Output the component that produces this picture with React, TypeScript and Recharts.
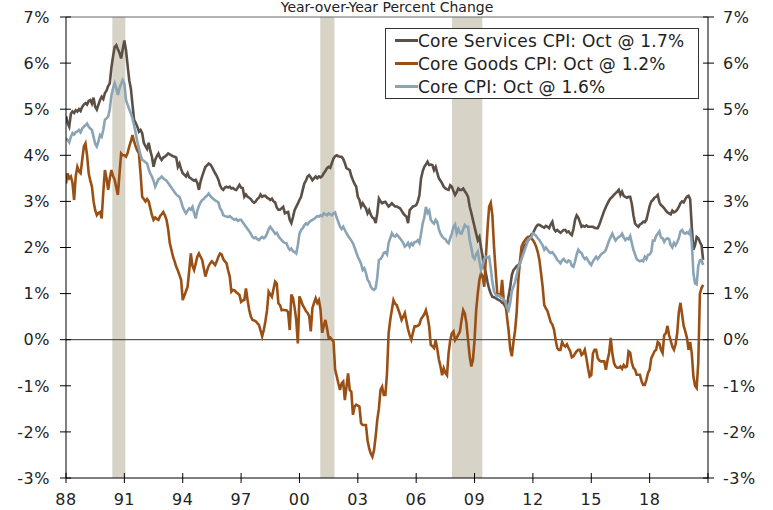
import React from 'react';
import {
  Legend,
  Line,
  LineChart,
  ReferenceArea,
  ReferenceLine,
  XAxis,
  YAxis,
} from 'recharts';

const FONT = '"DejaVu Sans", Verdana, sans-serif';

// monthly, Jan 1988 .. Oct 2020, year over year %
const coreServices = [
  4.85, 4.70, 4.62, 4.90, 4.95, 4.92, 4.98, 4.95, 5.00, 4.96, 5.05, 5.10, // 88
  5.13, 5.10, 5.18, 5.20, 5.12, 5.25, 5.05, 4.99, 5.10, 5.20, 5.27, 5.22, // 89
  5.35, 5.40, 5.50, 5.56, 5.90, 6.14, 6.35, 6.39, 6.30, 6.22, 6.10, 6.30, // 90
  6.49, 6.28, 5.95, 5.63, 5.45, 5.10, 4.77, 4.70, 4.62, 4.51, 4.55, 4.48, // 91
  4.27, 4.20, 4.14, 4.27, 4.10, 3.97, 3.75, 3.90, 3.98, 4.04, 3.95, 3.90, // 92
  3.95, 3.97, 4.00, 4.04, 4.02, 4.00, 3.98, 3.97, 3.95, 3.75, 3.82, 3.70, // 93
  3.61, 3.58, 3.54, 3.61, 3.52, 3.50, 3.47, 3.45, 3.47, 3.40, 3.25, 3.43, // 94
  3.55, 3.65, 3.75, 3.78, 3.82, 3.80, 3.75, 3.68, 3.61, 3.55, 3.47, 3.35, // 95
  3.28, 3.25, 3.30, 3.32, 3.30, 3.32, 3.28, 3.29, 3.26, 3.25, 3.30, 3.36, // 96
  3.30, 3.29, 3.10, 3.15, 3.10, 3.08, 3.05, 3.00, 2.97, 3.00, 3.05, 3.08, // 97
  3.15, 3.10, 3.12, 3.12, 3.08, 3.06, 3.03, 3.06, 3.00, 2.98, 2.87, 2.82, // 98
  2.82, 2.85, 2.88, 2.74, 2.76, 2.77, 2.60, 2.53, 2.66, 2.81, 2.88, 2.95, // 99
  3.03, 3.10, 3.25, 3.39, 3.45, 3.54, 3.57, 3.52, 3.46, 3.50, 3.54, 3.50, // 00
  3.54, 3.52, 3.55, 3.61, 3.66, 3.72, 3.75, 3.73, 3.83, 3.93, 3.98, 4.00, // 01
  3.98, 3.97, 3.97, 3.92, 3.83, 3.72, 3.70, 3.68, 3.55, 3.46, 3.38, 3.32, // 02
  3.10, 3.03, 2.89, 2.96, 2.90, 2.85, 2.74, 2.81, 2.71, 2.65, 2.63, 2.53, // 03
  2.74, 3.06, 3.00, 2.96, 2.98, 2.99, 2.94, 2.89, 2.92, 2.96, 2.92, 2.89, // 04
  2.89, 2.87, 2.85, 2.80, 2.74, 2.70, 2.67, 2.53, 2.81, 2.85, 2.89, 2.90, // 05
  2.92, 3.00, 3.14, 3.50, 3.65, 3.75, 3.80, 3.86, 3.79, 3.80, 3.79, 3.68, // 06
  3.75, 3.62, 3.50, 3.45, 3.39, 3.32, 3.28, 3.26, 3.25, 3.35, 3.32, 3.22, // 07
  3.14, 3.20, 3.28, 3.25, 3.25, 3.28, 3.22, 3.17, 3.10, 2.89, 2.75, 2.60, // 08
  2.45, 2.30, 2.16, 2.23, 2.00, 1.80, 1.58, 1.44, 1.25, 1.10, 1.00, 0.93, // 09
  0.92, 0.90, 0.88, 0.86, 0.84, 0.80, 0.78, 0.72, 0.75, 0.95, 1.15, 1.40, // 10
  1.51, 1.55, 1.60, 1.62, 1.65, 1.80, 1.95, 2.05, 2.09, 2.15, 2.20, 2.28, // 11
  2.31, 2.38, 2.45, 2.49, 2.49, 2.47, 2.45, 2.43, 2.47, 2.45, 2.42, 2.50, // 12
  2.56, 2.40, 2.35, 2.38, 2.35, 2.32, 2.35, 2.38, 2.38, 2.33, 2.35, 2.30, // 13
  2.27, 2.40, 2.60, 2.70, 2.65, 2.55, 2.45, 2.47, 2.45, 2.48, 2.45, 2.45, // 14
  2.45, 2.45, 2.43, 2.42, 2.42, 2.50, 2.60, 2.70, 2.80, 2.88, 2.95, 3.02, // 15
  3.07, 3.10, 3.14, 3.18, 3.21, 3.25, 3.14, 3.21, 3.12, 3.10, 3.08, 3.10, // 16
  3.10, 2.95, 2.70, 2.52, 2.48, 2.45, 2.50, 2.52, 2.56, 2.55, 2.60, 2.75, // 17
  2.90, 3.00, 3.03, 3.08, 3.10, 3.14, 2.98, 2.92, 2.89, 2.85, 2.80, 2.76, // 18
  2.74, 2.72, 2.80, 2.76, 2.78, 2.82, 2.88, 2.96, 3.00, 2.98, 3.05, 3.10, // 19
  3.12, 3.05, 2.45, 1.95, 2.05, 2.23, 2.20, 2.12, 2.05, 1.73, // 20
];

const coreGoods = [
  3.39, 3.61, 3.50, 3.54, 3.40, 3.03, 3.55, 3.75, 3.65, 3.61, 3.90, 4.19, // 88
  4.26, 4.00, 3.61, 3.45, 3.32, 3.00, 2.81, 2.70, 2.75, 2.77, 2.63, 3.20, // 89
  3.68, 3.50, 3.25, 3.50, 3.68, 3.55, 3.47, 3.30, 3.14, 3.60, 4.04, 4.00, // 90
  4.00, 3.97, 4.05, 4.19, 4.30, 4.44, 4.30, 4.19, 4.10, 4.04, 3.60, 3.10, // 91
  3.05, 3.00, 3.05, 3.00, 2.85, 2.70, 2.60, 2.65, 2.62, 2.60, 2.68, 2.72, // 92
  2.77, 2.70, 2.60, 2.40, 2.10, 1.95, 1.80, 1.70, 1.58, 1.50, 1.40, 1.30, // 93
  0.86, 0.95, 1.05, 1.15, 1.50, 1.87, 1.60, 1.51, 1.65, 1.80, 1.87, 1.80, // 94
  1.73, 1.55, 1.37, 1.50, 1.60, 1.66, 1.70, 1.66, 1.62, 1.70, 1.80, 1.87, // 95
  1.85, 1.75, 1.70, 1.66, 1.50, 1.37, 1.04, 1.08, 1.07, 1.03, 1.00, 0.97, // 96
  0.82, 0.85, 0.86, 1.11, 0.86, 0.65, 0.50, 0.43, 0.42, 0.40, 0.36, 0.32, // 97
  0.20, 0.07, 0.21, 0.40, 0.64, 1.04, 0.98, 0.93, 1.10, 1.26, 1.22, 0.79, // 98
  0.75, 0.64, 0.65, 0.64, 0.64, 0.60, 0.21, 0.98, 0.90, 0.70, 0.43, -0.08, // 99
  0.94, 0.85, 0.75, 0.69, 0.62, 0.58, 0.51, 0.18, 0.69, 0.80, 0.90, 0.80, // 00
  0.86, 0.65, 0.15, 0.30, 0.43, 0.25, 0.04, 0.05, 0.00, -0.04, -0.65, -0.79, // 01
  -0.95, -1.09, -0.95, -0.91, -1.31, -1.02, -0.73, -1.09, -1.13, -1.63, -1.45, -1.41, // 02
  -1.43, -1.45, -1.81, -1.85, -1.85, -1.85, -2.18, -2.36, -2.47, -2.54, -2.40, -2.10, // 03
  -1.74, -1.49, -1.09, -1.02, -1.20, -1.20, -0.73, 0.14, 0.43, 0.65, 0.86, 0.78, // 04
  0.75, 0.65, 0.55, 0.43, 0.50, 0.58, 0.40, 0.22, 0.10, 0.00, 0.15, 0.29, // 05
  0.29, 0.30, 0.33, 0.45, 0.50, 0.55, 0.64, 0.50, 0.29, -0.11, -0.14, -0.18, // 06
  -0.01, -0.20, -0.43, -0.58, -0.77, -0.62, -0.72, -0.77, -0.29, -0.01, 0.14, 0.18, // 07
  -0.01, 0.04, 0.11, 0.18, 0.43, 0.64, 0.57, 0.36, -0.01, -0.36, -0.58, -0.44, // 08
  -0.01, 0.64, 1.01, 1.30, 1.44, 1.37, 1.15, 1.80, 2.40, 2.89, 2.97, 2.70, // 09
  2.02, 1.50, 1.01, 0.98, 0.94, 1.30, 0.86, 0.80, 0.50, 0.20, -0.20, -0.36, // 10
  -0.05, 0.20, 0.60, 1.30, 1.70, 2.02, 2.10, 2.15, 2.20, 2.23, 2.23, 2.20, // 11
  2.16, 2.10, 2.02, 1.90, 1.73, 1.45, 1.15, 0.75, 0.68, 0.62, 0.50, 0.38, // 12
  0.33, 0.22, 0.00, -0.18, -0.22, -0.22, -0.05, -0.12, -0.15, -0.10, -0.18, -0.25, // 13
  -0.38, -0.36, -0.30, -0.25, -0.22, -0.22, -0.33, -0.30, -0.22, -0.40, -0.62, -0.80, // 14
  -0.77, -0.30, -0.22, -0.22, -0.40, -0.45, -0.47, -0.47, -0.47, -0.65, -0.45, -0.29, // 15
  0.04, -0.30, -0.50, -0.58, -0.61, -0.61, -0.58, -0.63, -0.55, -0.60, -0.58, -0.25, // 16
  -0.28, -0.50, -0.61, -0.65, -0.76, -0.76, -0.76, -0.90, -0.98, -0.98, -0.87, -0.72, // 17
  -0.65, -0.40, -0.33, -0.25, -0.22, -0.05, -0.08, -0.22, -0.29, 0.10, 0.14, 0.30, // 18
  0.10, -0.02, -0.15, -0.22, -0.10, 0.14, 0.60, 0.80, 0.55, 0.30, 0.18, 0.04, // 19
  -0.22, -0.05, -0.30, -0.80, -1.00, -1.05, -0.50, 1.00, 1.12, 1.19, // 20
];

const coreCpi = [
  4.37, 4.33, 4.28, 4.40, 4.48, 4.45, 4.50, 4.52, 4.55, 4.50, 4.58, 4.62, // 88
  4.65, 4.69, 4.62, 4.58, 4.55, 4.40, 4.25, 4.19, 4.30, 4.44, 4.40, 4.55, // 89
  4.77, 4.80, 4.84, 5.00, 5.30, 5.45, 5.56, 5.45, 5.31, 5.45, 5.55, 5.63, // 90
  5.55, 5.20, 5.10, 5.00, 4.91, 4.80, 4.65, 4.48, 4.30, 4.15, 4.00, 3.90, // 91
  3.88, 3.85, 3.82, 3.70, 3.60, 3.54, 3.45, 3.32, 3.40, 3.48, 3.50, 3.54, // 92
  3.50, 3.47, 3.45, 3.40, 3.35, 3.30, 3.25, 3.20, 3.15, 3.12, 3.10, 3.00, // 93
  2.88, 2.80, 2.74, 2.80, 2.85, 2.82, 2.88, 2.75, 2.63, 2.80, 2.90, 2.98, // 94
  3.03, 3.05, 3.10, 3.12, 3.17, 3.12, 3.08, 3.05, 3.02, 3.00, 2.98, 2.85, // 95
  2.80, 2.70, 2.68, 2.67, 2.66, 2.68, 2.65, 2.62, 2.60, 2.62, 2.58, 2.60, // 96
  2.60, 2.55, 2.50, 2.45, 2.40, 2.35, 2.30, 2.23, 2.20, 2.22, 2.18, 2.16, // 97
  2.20, 2.23, 2.20, 2.23, 2.30, 2.40, 2.45, 2.40, 2.35, 2.30, 2.32, 2.25, // 98
  2.20, 2.16, 2.12, 2.10, 2.09, 2.00, 1.95, 1.98, 1.92, 1.90, 1.87, 2.05, // 99
  2.30, 2.38, 2.42, 2.48, 2.52, 2.50, 2.55, 2.58, 2.60, 2.62, 2.65, 2.68, // 00
  2.67, 2.70, 2.68, 2.74, 2.72, 2.70, 2.74, 2.72, 2.70, 2.74, 2.76, 2.65, // 01
  2.55, 2.45, 2.40, 2.45, 2.38, 2.31, 2.25, 2.20, 2.15, 2.09, 2.00, 1.90, // 02
  1.80, 1.73, 1.65, 1.51, 1.55, 1.45, 1.30, 1.25, 1.15, 1.10, 1.08, 1.12, // 03
  1.35, 1.73, 1.75, 1.80, 1.88, 1.90, 1.85, 2.10, 2.20, 2.31, 2.25, 2.24, // 04
  2.28, 2.24, 2.20, 2.15, 2.10, 2.02, 2.05, 2.10, 2.02, 2.09, 2.05, 2.12, // 05
  2.12, 2.16, 2.10, 2.30, 2.52, 2.65, 2.88, 2.75, 2.80, 2.60, 2.55, 2.52, // 06
  2.60, 2.55, 2.40, 2.30, 2.24, 2.20, 2.18, 2.12, 2.09, 2.20, 2.30, 2.45, // 07
  2.50, 2.31, 2.40, 2.31, 2.30, 2.40, 2.49, 2.45, 2.45, 2.16, 2.00, 1.80, // 08
  1.75, 1.85, 1.91, 1.70, 1.51, 1.60, 1.75, 1.80, 1.78, 1.80, 1.55, 1.25, // 09
  1.05, 0.98, 0.94, 0.96, 0.92, 0.90, 0.88, 0.82, 0.70, 0.64, 0.80, 1.05, // 10
  1.15, 1.25, 1.40, 1.58, 1.65, 1.75, 1.85, 1.95, 2.05, 2.16, 2.20, 2.22, // 11
  2.31, 2.28, 2.25, 2.20, 2.16, 2.10, 2.05, 1.95, 2.00, 1.95, 1.90, 1.88, // 12
  1.90, 1.85, 1.80, 1.73, 1.70, 1.66, 1.72, 1.75, 1.70, 1.68, 1.72, 1.70, // 13
  1.60, 1.58, 1.70, 1.85, 1.95, 1.90, 1.88, 1.80, 1.75, 1.78, 1.72, 1.66, // 14
  1.62, 1.70, 1.75, 1.80, 1.75, 1.80, 1.85, 1.88, 1.90, 1.95, 2.05, 2.15, // 15
  2.23, 2.30, 2.22, 2.15, 2.20, 2.23, 2.25, 2.30, 2.22, 2.16, 2.20, 2.18, // 16
  2.25, 2.10, 1.95, 1.85, 1.75, 1.72, 1.70, 1.72, 1.70, 1.80, 1.75, 1.84, // 17
  1.85, 1.90, 2.15, 2.15, 2.25, 2.30, 2.35, 2.22, 2.20, 2.12, 2.18, 2.20, // 18
  2.18, 2.05, 2.00, 2.10, 2.05, 2.12, 2.20, 2.35, 2.38, 2.32, 2.30, 2.33, // 19
  2.30, 2.38, 2.10, 1.44, 1.22, 1.20, 1.60, 1.72, 1.73, 1.62, // 20
];

const xTicks = [1988, 1991, 1994, 1997, 2000, 2003, 2006, 2009, 2012, 2015, 2018, 2021];
const yTicks = [-3, -2, -1, 0, 1, 2, 3, 4, 5, 6, 7];

// recessions, as shaded on the chart
const recessions = [
  [1990.38, 1991.05],
  [2001.07, 2001.8],
  [2007.84, 2009.4],
];

const series = [
  { key: 'services', name: 'Core Services CPI: Oct @ 1.7%', color: '#5b4f46' },
  { key: 'goods', name: 'Core Goods CPI: Oct @ 1.2%', color: '#9a5015' },
  { key: 'cpi', name: 'Core CPI: Oct @ 1.6%', color: '#8aa4b6' },
];

const data = coreServices.map((v, i) => ({
  t: 1988 + i / 12,
  services: v,
  goods: coreGoods[i],
  cpi: coreCpi[i],
}));

const fmtYear = (v: number) => (v === 2021 ? '' : String(v % 100).padStart(2, '0'));

const tickText = { fill: '#222', fontSize: 16, fontFamily: FONT, letterSpacing: 0.5 };

const LeftTick = (props: any) => {
  const { x, y, payload } = props;
  const ax = x + 16;
  return (
    <g>
      <line x1={ax - 6} x2={ax + 5} y1={y} y2={y} stroke='#000' />
      <text x={x} y={y} dy='0.36em' textAnchor='end' {...tickText}>
        {payload.value}%
      </text>
    </g>
  );
};

const RightTick = (props: any) => {
  const { x, y, payload } = props;
  const ax = x - 15;
  return (
    <g>
      <line x1={ax - 5} x2={ax + 6} y1={y} y2={y} stroke='#000' />
      <text x={x} y={y} dy='0.36em' textAnchor='start' {...tickText}>
        {payload.value}%
      </text>
    </g>
  );
};

const BottomTick = (props: any) => {
  const { x, y, payload } = props;
  const ay = y - 16;
  return (
    <g>
      <line x1={x} x2={x} y1={ay - 5} y2={ay + 5} stroke='#000' />
      <text x={x} y={y} dy='0.71em' textAnchor='middle' {...tickText}>
        {fmtYear(payload.value)}
      </text>
    </g>
  );
};

const LegendBox = () => (
  <div
    style={{
      boxSizing: 'border-box',
      width: 314,
      height: 71,
      border: '1px solid #333',
      background: '#fff',
      paddingLeft: 9,
      fontFamily: FONT,
      fontSize: 17,
      letterSpacing: 0.2,
      color: '#222',
    }}
  >
    {series.map((s) => (
      <div key={s.key} style={{ display: 'flex', alignItems: 'center', height: 23 }}>
        <span style={{ display: 'inline-block', width: 23, height: 3, background: s.color }} />
        <span style={{ whiteSpace: 'nowrap' }}>{s.name}</span>
      </div>
    ))}
  </div>
);

const App = () => {
  return (
    <div
      style={{
        position: 'absolute',
        left: 0,
        top: 0,
        width: 773,
        height: 510,
        background: '#fff',
        overflow: 'hidden',
        fontFamily: FONT,
      }}
    >
      <div
        style={{
          position: 'absolute',
          left: 66,
          width: 642,
          top: 0,
          textAlign: 'center',
          fontSize: 14,
          lineHeight: '14px',
          color: '#222',
          zIndex: 2,
        }}
      >
        Year-over-Year Percent Change
      </div>
      <LineChart width={773} height={510} data={data} margin={{ top: 17, right: 0, bottom: 2, left: 0 }}>
        <XAxis
          dataKey='t'
          type='number'
          domain={[1988, 2021]}
          ticks={xTicks}
          interval={0}
          allowDataOverflow
          axisLine={{ stroke: '#000' }}
          tickLine={false}
          tickSize={5}
          tickMargin={11}
          tick={<BottomTick />}
          height={30}
        />
        <YAxis
          yAxisId='left'
          orientation='left'
          domain={[-3, 7]}
          ticks={yTicks}
          interval={0}
          allowDataOverflow
          axisLine={{ stroke: '#000' }}
          tickLine={false}
          tickSize={5}
          tickMargin={11}
          tick={<LeftTick />}
          width={66}
        />
        <YAxis
          yAxisId='right'
          orientation='right'
          domain={[-3, 7]}
          ticks={yTicks}
          interval={0}
          allowDataOverflow
          axisLine={{ stroke: '#000' }}
          tickLine={false}
          tickSize={5}
          tickMargin={10}
          tick={<RightTick />}
          width={65}
        />
        {recessions.map(([a, b]) => (
          <ReferenceArea
            key={a}
            yAxisId='left'
            x1={a}
            x2={b}
            y1={-3}
            y2={7}
            fill='#d7d3c6'
            fillOpacity={1}
            stroke='none'
          />
        ))}
        <ReferenceLine yAxisId='left' y={7} stroke='#666' />
        <ReferenceLine yAxisId='left' y={0} stroke='#333' />
        {series.map((s) => (
          <Line
            key={s.key}
            yAxisId='left'
            type='linear'
            dataKey={s.key}
            name={s.name}
            stroke={s.color}
            strokeWidth={2.6}
            dot={false}
            activeDot={false}
            isAnimationActive={false}
          />
        ))}
        <Legend
          layout='vertical'
          align='center'
          verticalAlign='middle'
          wrapperStyle={{ left: 385, top: 28, width: 314, height: 71 }}
          content={() => <LegendBox />}
        />
      </LineChart>
    </div>
  );
};

export default App;
